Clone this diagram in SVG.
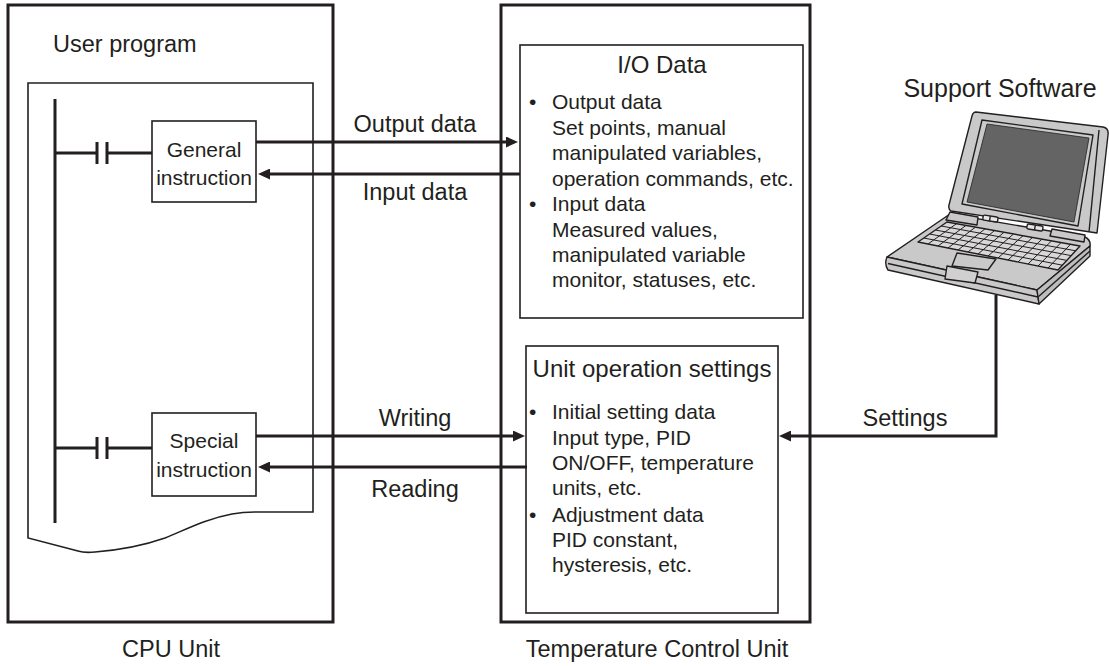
<svg xmlns="http://www.w3.org/2000/svg" width="1109" height="666" viewBox="0 0 1109 666">
<style>
text{font-family:"Liberation Sans",Arial,sans-serif;fill:#231f20}
.lbl{font-size:23.5px}
.ttl{font-size:24px}
.body{font-size:21px}
.unit{fill:none;stroke:#231f20;stroke-width:3}
.box{fill:#fff;stroke:#231f20;stroke-width:1.6}
.ldr{fill:none;stroke:#231f20;stroke-width:3}
.arr{fill:none;stroke:#231f20;stroke-width:3;marker-end:url(#ah)}
.lap{stroke:#231f20;stroke-width:1.4;stroke-linejoin:round}
.key{fill:none;stroke:#231f20;stroke-width:1}
</style>
<defs>
<marker id="ah" markerUnits="userSpaceOnUse" markerWidth="12" markerHeight="11" refX="6" refY="5.5" orient="auto">
<path d="M0,0 L12,5.5 L0,11 z" fill="#231f20"/>
</marker>
<clipPath id="kbclip"><path d="M947,222 L1080,246 L1058,270 L918,242 Z"/></clipPath>
</defs>
<rect width="1109" height="666" fill="#fff"/>

<g id="cpu-unit">
<rect class="unit" x="8" y="5" width="325" height="617"/>
<text class="lbl" x="171" y="657" text-anchor="middle">CPU Unit</text>
</g>

<g id="user-program">
<text class="lbl" x="53" y="52">User program</text>
<path d="M313,512 V83 H28 V538 L78,551 Q84,553 95,552 C120,550 145,545 165,538 C185,530 205,519 232,514 C240,512.5 247,512 255,512 Z" fill="none" stroke="#231f20" stroke-width="1.6"/>
<line class="ldr" x1="55" y1="99" x2="55" y2="523"/>
<path class="ldr" d="M55,153 H96 M108,153 H152 M97,142 V164 M107,142 V164"/>
<path class="ldr" d="M55,448 H96 M108,448 H152 M97,437 V459 M107,437 V459"/>
</g>

<g id="general-instruction">
<rect class="box" x="152" y="121" width="104" height="81"/>
<text class="body" x="204" y="157" text-anchor="middle">General</text>
<text class="body" x="204" y="185" text-anchor="middle">instruction</text>
</g>

<g id="special-instruction">
<rect class="box" x="152" y="413" width="104" height="83"/>
<text class="body" x="204" y="448" text-anchor="middle">Special</text>
<text class="body" x="204" y="477" text-anchor="middle">instruction</text>
</g>

<g id="temperature-control-unit">
<rect class="unit" x="501" y="5" width="309" height="617"/>
<text class="lbl" x="657" y="657" text-anchor="middle">Temperature Control Unit</text>
</g>

<g id="io-data">
<rect class="box" x="520" y="45" width="283" height="273"/>
<text class="ttl" x="662" y="73" text-anchor="middle">I/O Data</text>
<text class="body">
<tspan x="529" y="109">•</tspan><tspan x="552" y="109">Output data</tspan>
<tspan x="552" y="135">Set points, manual</tspan>
<tspan x="552" y="160">manipulated variables,</tspan>
<tspan x="552" y="186">operation commands, etc.</tspan>
<tspan x="529" y="211">•</tspan><tspan x="552" y="211">Input data</tspan>
<tspan x="552" y="237">Measured values,</tspan>
<tspan x="552" y="262">manipulated variable</tspan>
<tspan x="552" y="287">monitor, statuses, etc.</tspan>
</text>
</g>

<g id="unit-operation-settings">
<rect class="box" x="526" y="346" width="252" height="267"/>
<text class="ttl" x="652" y="377" text-anchor="middle">Unit operation settings</text>
<text class="body">
<tspan x="529" y="419">•</tspan><tspan x="552" y="419">Initial setting data</tspan>
<tspan x="552" y="445">Input type, PID</tspan>
<tspan x="552" y="470">ON/OFF, temperature</tspan>
<tspan x="552" y="495">units, etc.</tspan>
<tspan x="529" y="522">•</tspan><tspan x="552" y="522">Adjustment data</tspan>
<tspan x="552" y="547">PID constant,</tspan>
<tspan x="552" y="572">hysteresis, etc.</tspan>
</text>
</g>

<g id="support-software">
<text x="1000" y="97" text-anchor="middle" style="font-size:25px">Support Software</text>
<g id="laptop">
<!-- lid -->
<path class="lap" fill="#c9c9c9" d="M976,112 L1103,127 Q1109,128 1108,135 L1097,233 L951,211 Q948,209 949,205 L972,116 Q973,112 976,112 Z"/>
<path class="lap" fill="none" d="M1099,130 L1089,232"/>
<path class="lap" fill="#c9c9c9" d="M982,120 L1093,135 L1078,226 L962,204 Z"/>
<path fill="#646464" stroke="#231f20" stroke-width="0.8" d="M987,124 L1089,138 L1074,222 L967,202 Z"/>
<!-- base -->
<path class="lap" fill="#c9c9c9" d="M887,257 L950,214 L1085,237 Q1091,240 1090,246 L1037,290 Z"/>
<path class="lap" fill="#c9c9c9" d="M887,257 L1037,290 L1039,304 L888,270 Q884,264 887,257 Z"/>
<path class="lap" fill="#bdbdbd" d="M1037,290 L1090,246 L1090,256 L1039,304 Z"/>
<path class="lap" fill="none" d="M888,263.5 L1038,297 L1090,251"/>
<!-- keyboard -->
<path class="lap" fill="#d8d8d8" d="M947,222 L1080,246 L1058,270 L918,242 Z"/>
<g clip-path="url(#kbclip)">
<path class="key" d="M941.2,226 L1075.6,250.8 M935.4,230 L1071.2,255.6 M929.6,234 L1066.8,260.4 M923.8,238 L1062.4,265.2
M956.5,223.7 L928,244 M966,225.4 L938,246 M975.5,227.1 L948,248 M985,228.9 L958,250 M994.5,230.6 L968,252 M1004,232.3 L978,254 M1013.5,234 L988,256 M1023,235.7 L998,258 M1032.5,237.4 L1008,260 M1042,239.1 L1018,262 M1051.5,240.9 L1028,264 M1061,242.6 L1038,266 M1070.5,244.3 L1048,268"/>
</g>
<!-- hinges -->
<path class="lap" fill="#c9c9c9" d="M950,212 L978,217 L977,225 L946,220 Z"/>
<path class="lap" fill="#c9c9c9" d="M1052,229 L1085,235 L1084,242 L1050,236 Z"/>
<!-- indicators -->
<rect class="lap" fill="#e6e6e6" x="983" y="216" width="15" height="5" rx="1.5" transform="rotate(9 990 218)"/>
<line class="lap" x1="990" y1="216" x2="990" y2="221" transform="rotate(9 990 218)"/>
<rect class="lap" fill="#e6e6e6" x="1027" y="225" width="16" height="5" rx="1.5" transform="rotate(9 1035 227)"/>
<line class="lap" x1="1035" y1="225" x2="1035" y2="230" transform="rotate(9 1035 227)"/>
<!-- touchpad and buttons -->
<path class="lap" fill="#c9c9c9" d="M957,253 L996,259 L988,270 L952,266 Z"/>
<path class="lap" fill="#d0d0d0" d="M947,266 L978,272 L975,283 L945,279 Z"/>
</g>
</g>

<g id="connectors">
<path class="arr" d="M256,142 H512"/>
<path class="arr" d="M520,174 H264"/>
<path class="arr" d="M256,436 H519"/>
<path class="arr" d="M527,467 H264"/>
<path class="arr" d="M996,295 V436 H785" stroke-width="2.5"/>
<text class="lbl" x="415" y="132" text-anchor="middle">Output data</text>
<text class="lbl" x="415" y="200" text-anchor="middle">Input data</text>
<text class="lbl" x="415" y="426" text-anchor="middle">Writing</text>
<text class="lbl" x="415" y="497" text-anchor="middle">Reading</text>
<text class="lbl" x="905" y="426" text-anchor="middle">Settings</text>
</g>
</svg>
